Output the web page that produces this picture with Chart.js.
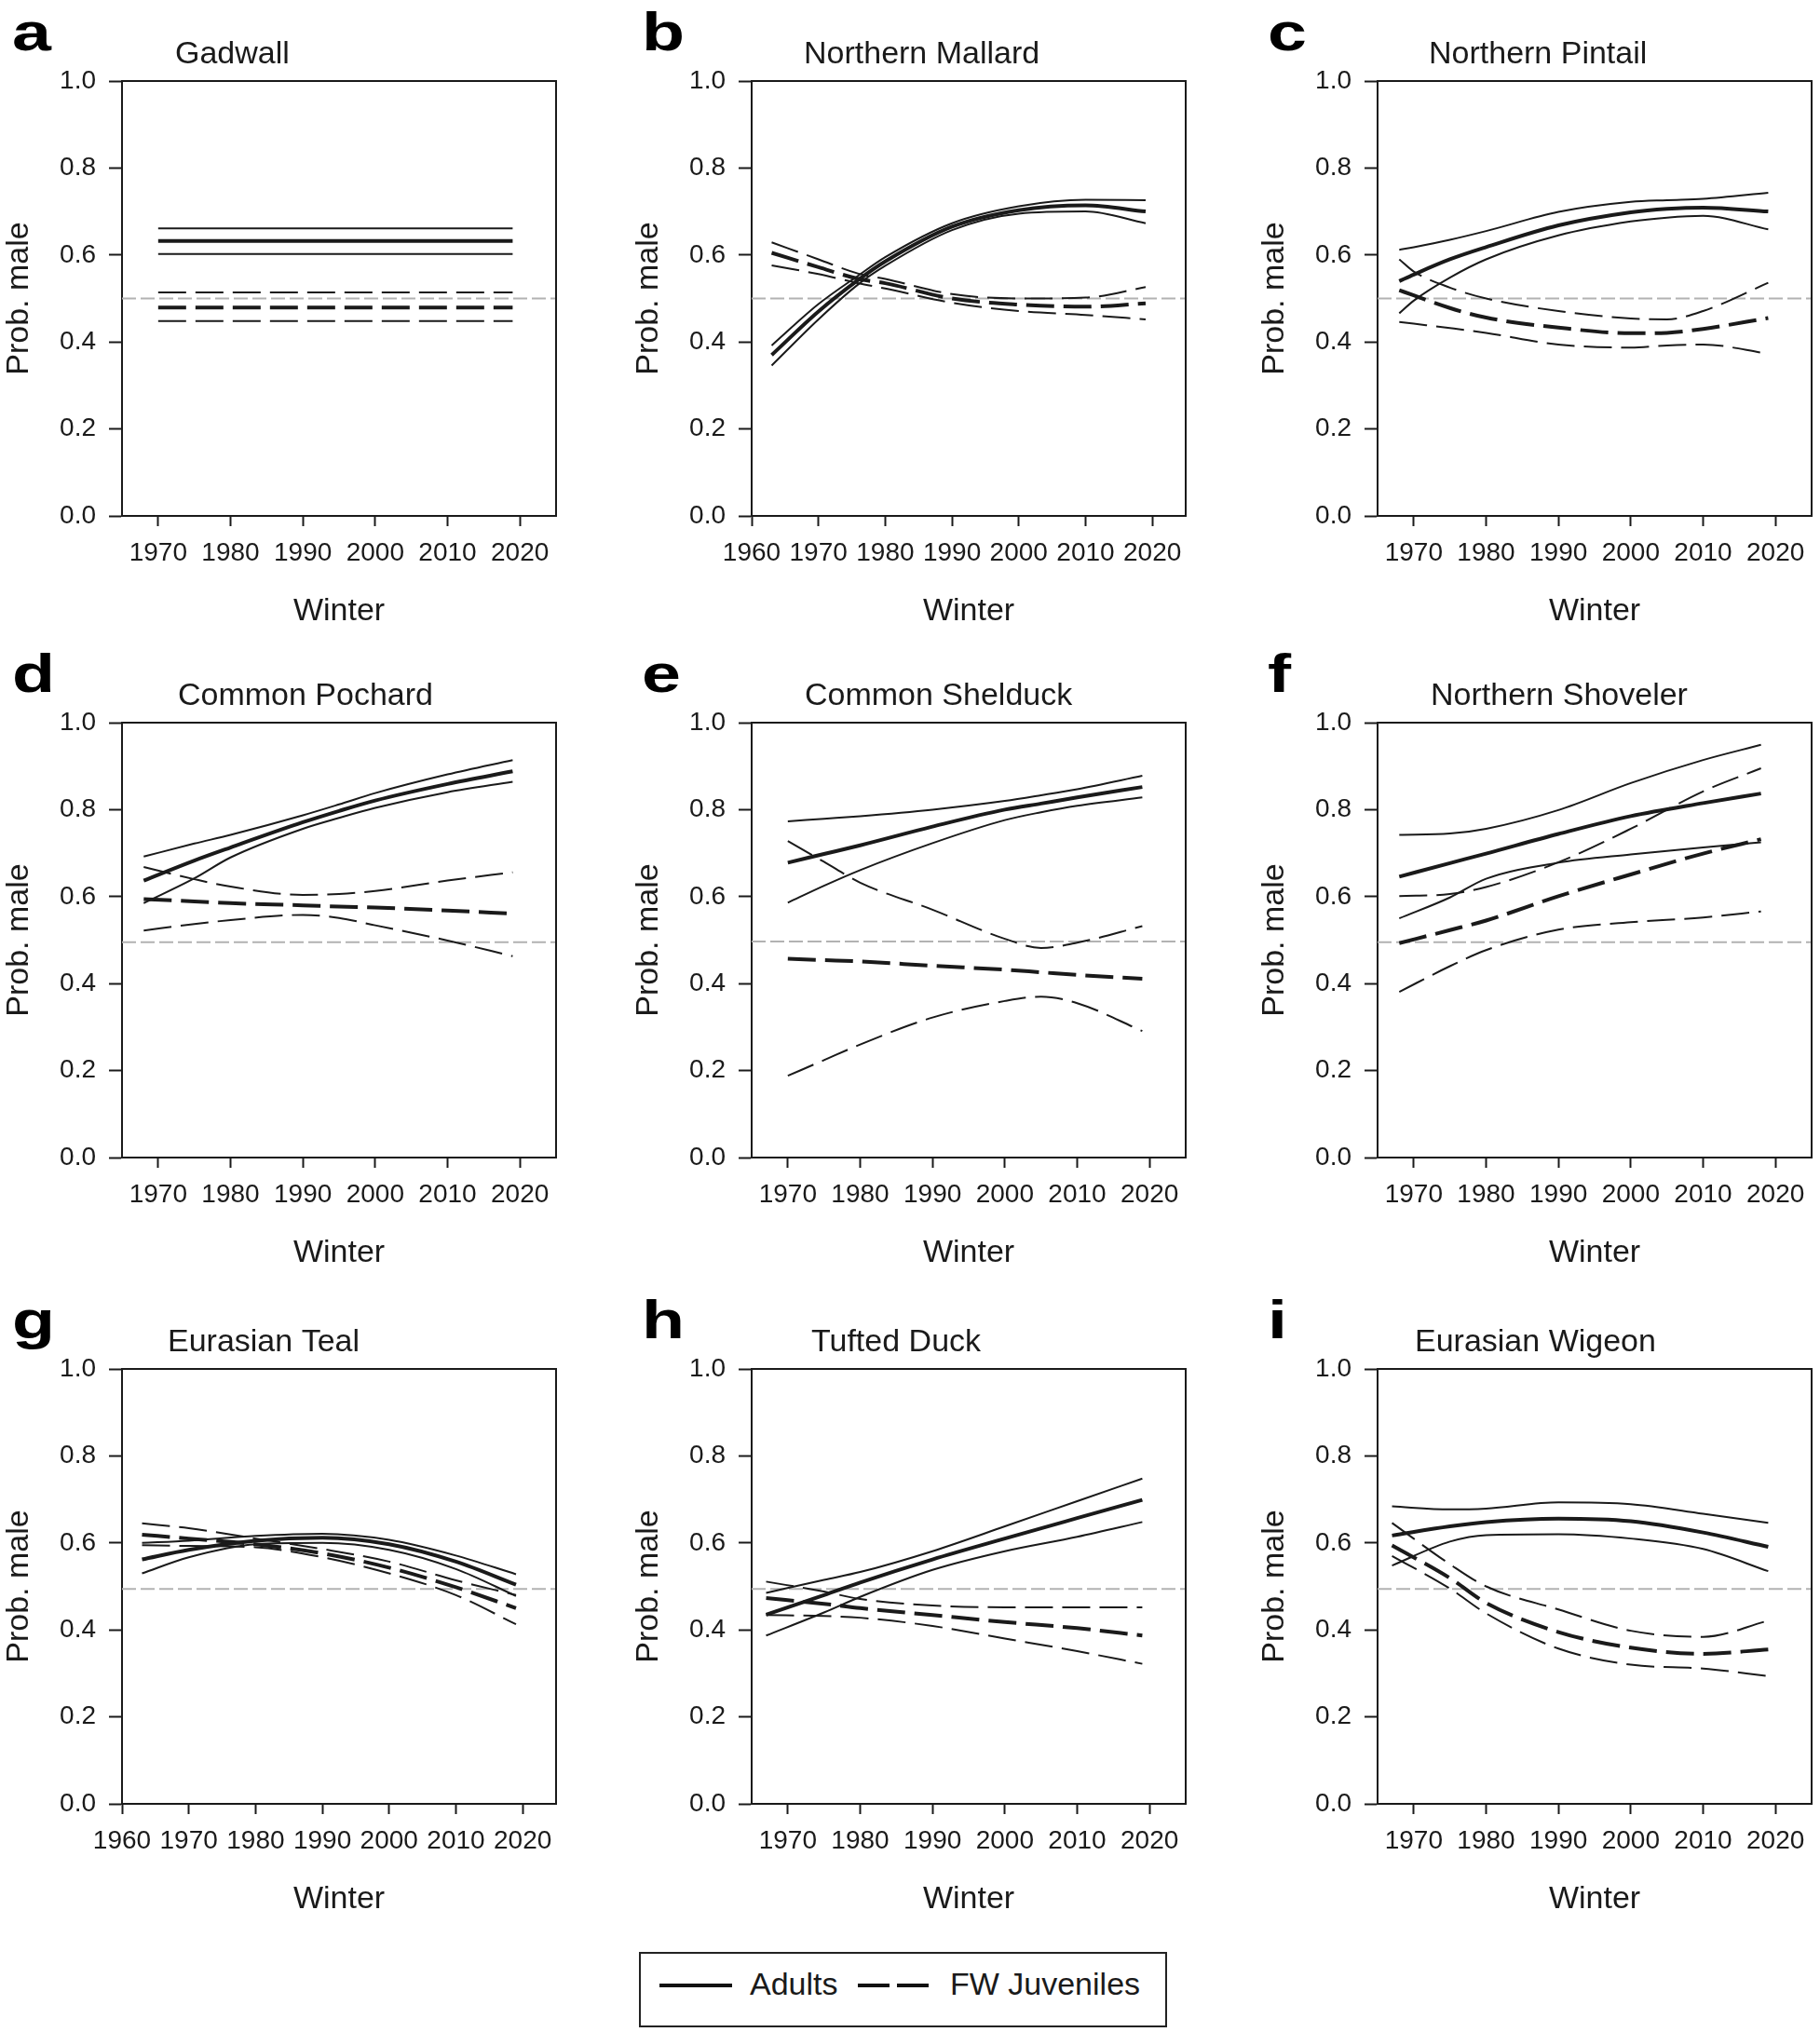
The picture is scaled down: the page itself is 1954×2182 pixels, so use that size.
<!DOCTYPE html>
<html>
<head>
<meta charset="utf-8">
<script src="https://cdn.jsdelivr.net/npm/chart.js@4.4.1/dist/chart.umd.min.js"></script>
<style>
  html, body { margin: 0; padding: 0; background: #fff; }
  body { width: 1954px; height: 2182px; position: relative; overflow: hidden; font-family: "Liberation Sans", Arial, sans-serif; color: #1a1a1a; }
  canvas.panel { position: absolute; }
  #legend { position: absolute; left: 686px; top: 2096px; width: 563px; height: 77px; border: 2px solid #222; }
  #legend .ln { position: absolute; top: 32px; height: 4px; background: #111; }
  #legend .lbl { position: absolute; top: 15px; font-size: 34px; line-height: 34px; }
</style>
</head>
<body>
<div id="legend">
  <span class="ln" style="left:20px;width:78px"></span>
  <span class="lbl" style="left:117px">Adults</span>
  <span class="ln" style="left:233px;width:34px"></span>
  <span class="ln" style="left:275px;width:34px"></span>
  <span class="lbl" style="left:332px">FW Juveniles</span>
</div>
<script>
const FONT = '"Liberation Sans", Arial, sans-serif';
const INK = '#1a1a1a';

// ---------------------------
// axes
// ---------------------------
const yTicks = [0, 0.2, 0.4, 0.6, 0.8, 1.0];
const xTicksFrom1960 = [1960, 1970, 1980, 1990, 2000, 2010, 2020];
const xTicksFrom1970 = [1970, 1980, 1990, 2000, 2010, 2020];
const xMax = 2025;

// ---------------------------
// panels
// ---------------------------
const panelLetters = ['a', 'b', 'c', 'd', 'e', 'f', 'g', 'h', 'i'];
const panelTitles = ['Gadwall', 'Northern Mallard', 'Northern Pintail', 'Common Pochard',
  'Common Shelduck', 'Northern Shoveler', 'Eurasian Teal', 'Tufted Duck', 'Eurasian Wigeon'];
const xMins = [1965, 1960, 1965, 1965, 1965, 1965, 1960, 1965, 1965];
const refLevels = [0.5, 0.5, 0.5, 0.495, 0.497, 0.495, 0.494, 0.494, 0.494];

// ---------------------------
// data (Prob. male by winter)
// ---------------------------
// a Gadwall
const gadwallYears = [1970, 2019];
const gadwallAdult = [0.632, 0.632];
const gadwallAdultHi = [0.661, 0.661];
const gadwallAdultLo = [0.602, 0.602];
const gadwallJuv = [0.479, 0.479];
const gadwallJuvHi = [0.514, 0.514];
const gadwallJuvLo = [0.448, 0.448];

// b Northern Mallard
const mallardYears = [1963, 1970, 1976, 1980, 1990, 2000, 2010, 2019];
const mallardAdult = [0.370, 0.470, 0.543, 0.585, 0.665, 0.703, 0.714, 0.700];
const mallardAdultHi = [0.392, 0.487, 0.553, 0.595, 0.673, 0.712, 0.727, 0.726];
const mallardAdultLo = [0.346, 0.452, 0.533, 0.575, 0.657, 0.695, 0.700, 0.673];
const mallardJuv = [0.605, 0.572, 0.545, 0.535, 0.500, 0.486, 0.481, 0.489];
const mallardJuvHi = [0.629, 0.590, 0.557, 0.545, 0.510, 0.500, 0.502, 0.526];
const mallardJuvLo = [0.576, 0.556, 0.535, 0.523, 0.490, 0.471, 0.462, 0.452];

// c Northern Pintail
const pintailYears = [1968, 1970, 1975, 1980, 1990, 2000, 2005, 2010, 2019];
const pintailAdult = [0.540, 0.555, 0.590, 0.618, 0.668, 0.698, 0.706, 0.709, 0.700];
const pintailAdultHi = [0.612, 0.618, 0.635, 0.655, 0.699, 0.722, 0.726, 0.729, 0.743];
const pintailAdultLo = [0.466, 0.495, 0.548, 0.590, 0.645, 0.677, 0.686, 0.690, 0.659];
const pintailJuv = [0.519, 0.507, 0.478, 0.456, 0.433, 0.420, 0.421, 0.430, 0.455];
const pintailJuvHi = [0.590, 0.562, 0.525, 0.500, 0.471, 0.454, 0.452, 0.471, 0.536];
const pintailJuvLo = [0.446, 0.442, 0.432, 0.421, 0.394, 0.387, 0.392, 0.394, 0.373];

// d Common Pochard
const pochardYears = [1968, 1975, 1980, 1990, 1995, 2000, 2010, 2019];
const pochardAdult = [0.637, 0.683, 0.713, 0.771, 0.797, 0.821, 0.859, 0.888];
const pochardAdultHi = [0.692, 0.722, 0.742, 0.787, 0.812, 0.838, 0.881, 0.914];
const pochardAdultLo = [0.585, 0.642, 0.690, 0.756, 0.781, 0.804, 0.840, 0.864];
const pochardJuv = [0.594, 0.589, 0.585, 0.580, 0.577, 0.575, 0.568, 0.561];
const pochardJuvHi = [0.668, 0.640, 0.623, 0.604, 0.606, 0.613, 0.637, 0.656];
const pochardJuvLo = [0.522, 0.537, 0.546, 0.558, 0.551, 0.534, 0.499, 0.463];

// e Common Shelduck
const shelduckYears = [1970, 1975, 1980, 1990, 2000, 2005, 2010, 2019];
const shelduckAdult = [0.678, 0.698, 0.718, 0.761, 0.800, 0.814, 0.828, 0.852];
const shelduckAdultHi = [0.773, 0.779, 0.785, 0.800, 0.820, 0.833, 0.847, 0.878];
const shelduckAdultLo = [0.586, 0.625, 0.661, 0.723, 0.776, 0.794, 0.809, 0.828];
const shelduckJuv = [0.457, 0.454, 0.451, 0.441, 0.432, 0.426, 0.420, 0.411];
const shelduckJuvHi = [0.728, 0.680, 0.632, 0.570, 0.503, 0.482, 0.494, 0.532];
const shelduckJuvLo = [0.188, 0.224, 0.260, 0.322, 0.360, 0.370, 0.355, 0.291];

// f Northern Shoveler
const shovelerYears = [1968, 1975, 1980, 1990, 2000, 2010, 2018];
const shovelerAdult = [0.646, 0.677, 0.699, 0.744, 0.785, 0.815, 0.837];
const shovelerAdultHi = [0.742, 0.745, 0.756, 0.799, 0.861, 0.914, 0.949];
const shovelerAdultLo = [0.550, 0.598, 0.641, 0.678, 0.697, 0.713, 0.725];
const shovelerJuv = [0.493, 0.523, 0.545, 0.601, 0.651, 0.699, 0.732];
const shovelerJuvHi = [0.601, 0.606, 0.622, 0.679, 0.756, 0.842, 0.895];
const shovelerJuvLo = [0.381, 0.440, 0.477, 0.524, 0.541, 0.552, 0.566];

// g Eurasian Teal
const tealYears = [1963, 1970, 1980, 1990, 2000, 2010, 2019];
const tealAdult = [0.562, 0.584, 0.605, 0.612, 0.597, 0.557, 0.504];
const tealAdultHi = [0.600, 0.605, 0.616, 0.621, 0.607, 0.571, 0.528];
const tealAdultLo = [0.530, 0.567, 0.597, 0.600, 0.584, 0.540, 0.478];
const tealJuv = [0.619, 0.610, 0.597, 0.576, 0.543, 0.498, 0.450];
const tealJuvHi = [0.645, 0.634, 0.610, 0.586, 0.557, 0.514, 0.480];
const tealJuvLo = [0.595, 0.593, 0.590, 0.567, 0.530, 0.480, 0.413];

// h Tufted Duck
const tuftedYears = [1967, 1975, 1980, 1990, 2000, 2010, 2019];
const tuftedAdult = [0.435, 0.480, 0.509, 0.562, 0.610, 0.657, 0.699];
const tuftedAdultHi = [0.485, 0.515, 0.533, 0.581, 0.638, 0.696, 0.748];
const tuftedAdultLo = [0.387, 0.440, 0.476, 0.538, 0.581, 0.614, 0.648];
const tuftedJuv = [0.473, 0.460, 0.450, 0.434, 0.418, 0.404, 0.387];
const tuftedJuvHi = [0.511, 0.488, 0.471, 0.456, 0.452, 0.452, 0.452];
const tuftedJuvLo = [0.434, 0.432, 0.428, 0.409, 0.380, 0.351, 0.322];

// i Eurasian Wigeon
const wigeonYears = [1967, 1975, 1980, 1990, 2000, 2010, 2019];
const wigeonAdult = [0.617, 0.638, 0.648, 0.656, 0.650, 0.624, 0.591];
const wigeonAdultHi = [0.684, 0.677, 0.679, 0.693, 0.689, 0.667, 0.646];
const wigeonAdultLo = [0.548, 0.603, 0.618, 0.620, 0.610, 0.586, 0.535];
const wigeonJuv = [0.594, 0.519, 0.462, 0.395, 0.359, 0.345, 0.355];
const wigeonJuvHi = [0.646, 0.551, 0.500, 0.447, 0.398, 0.384, 0.421];
const wigeonJuvLo = [0.570, 0.495, 0.438, 0.357, 0.320, 0.311, 0.294];

const panelSeries = [
  [gadwallYears, gadwallAdult, gadwallAdultHi, gadwallAdultLo, gadwallJuv, gadwallJuvHi, gadwallJuvLo],
  [mallardYears, mallardAdult, mallardAdultHi, mallardAdultLo, mallardJuv, mallardJuvHi, mallardJuvLo],
  [pintailYears, pintailAdult, pintailAdultHi, pintailAdultLo, pintailJuv, pintailJuvHi, pintailJuvLo],
  [pochardYears, pochardAdult, pochardAdultHi, pochardAdultLo, pochardJuv, pochardJuvHi, pochardJuvLo],
  [shelduckYears, shelduckAdult, shelduckAdultHi, shelduckAdultLo, shelduckJuv, shelduckJuvHi, shelduckJuvLo],
  [shovelerYears, shovelerAdult, shovelerAdultHi, shovelerAdultLo, shovelerJuv, shovelerJuvHi, shovelerJuvLo],
  [tealYears, tealAdult, tealAdultHi, tealAdultLo, tealJuv, tealJuvHi, tealJuvLo],
  [tuftedYears, tuftedAdult, tuftedAdultHi, tuftedAdultLo, tuftedJuv, tuftedJuvHi, tuftedJuvLo],
  [wigeonYears, wigeonAdult, wigeonAdultHi, wigeonAdultLo, wigeonJuv, wigeonJuvHi, wigeonJuvLo]
];

// ---------------------------
// layout (pixels)
// ---------------------------
const colLeft = [0, 676, 1348];
const rowTop = [0, 689, 1383];
const CANVAS_W = 605, CANVAS_H = 686;
const AXIS_Y_W = 131, AXIS_X_H = 132, PLOT_TOP = 87, PLOT_W = 466;
const titleDx = [57, 56, 55, 60, 57, 57, 49, 64, 40];

// letters and species names
const panelText = {
  id: 'panelText',
  afterDraw(chart, args, opts) {
    const ctx = chart.ctx, area = chart.chartArea;
    ctx.save();
    ctx.fillStyle = '#000';
    ctx.textBaseline = 'alphabetic';
    // panel letter is set wide and heavy in the figure
    ctx.save();
    ctx.translate(area.left - 118, area.top - 33);
    ctx.scale(1.3, 1);
    ctx.font = `bold 58px ${FONT}`;
    ctx.fillText(opts.letter, 0, 0);
    ctx.restore();
    ctx.font = `34px ${FONT}`;
    ctx.fillStyle = INK;
    ctx.fillText(opts.title, area.left + opts.dx, area.top - 19);
    ctx.restore();
  }
};

// top and right edge of the box
const frame = {
  id: 'frame',
  afterDraw(chart) {
    const ctx = chart.ctx, a = chart.chartArea;
    ctx.save();
    ctx.strokeStyle = INK;
    ctx.lineWidth = 2;
    ctx.beginPath();
    ctx.moveTo(a.left, a.top);
    ctx.lineTo(a.right, a.top);
    ctx.lineTo(a.right, a.bottom);
    ctx.stroke();
    ctx.restore();
  }
};

function points(years, vals) {
  return years.map((x, k) => ({ x, y: vals[k] }));
}

function lineSet(data, width, dash) {
  return {
    data, borderColor: INK, borderWidth: width, borderDash: dash,
    pointRadius: 0, fill: false, cubicInterpolationMode: 'monotone'
  };
}

function createPanel(i) {
  const canvas = document.createElement('canvas');
  canvas.className = 'panel';
  canvas.width = CANVAS_W;
  canvas.height = CANVAS_H;
  canvas.style.left = colLeft[i % 3] + 'px';
  canvas.style.top = rowTop[Math.floor(i / 3)] + 'px';
  document.body.appendChild(canvas);

  const [years, ad, adHi, adLo, juv, juvHi, juvLo] = panelSeries[i];
  const xMin = xMins[i];
  const xt = xMin === 1960 ? xTicksFrom1960 : xTicksFrom1970;
  const dash = [30, 10];

  const datasets = [
    lineSet(points(years, ad), 4, []),
    lineSet(points(years, adHi), 2, []),
    lineSet(points(years, adLo), 2, []),
    lineSet(points(years, juv), 4, dash),
    lineSet(points(years, juvHi), 2, dash),
    lineSet(points(years, juvLo), 2, dash),
    {
      data: [{ x: xMin, y: refLevels[i] }, { x: xMax, y: refLevels[i] }],
      borderColor: '#b2b2b2', borderWidth: 2, borderDash: [15, 5], pointRadius: 0, fill: false
    }
  ];

  const gridOpts = { drawOnChartArea: false, drawTicks: true, tickWidth: 2, tickColor: INK };

  new Chart(canvas.getContext('2d'), {
    type: 'line',
    data: { datasets },
    options: {
      responsive: false,
      animation: false,
      devicePixelRatio: 1,
      events: [],
      layout: { padding: { left: 0, top: PLOT_TOP, right: CANVAS_W - AXIS_Y_W - PLOT_W, bottom: 0 } },
      plugins: {
        legend: { display: false },
        tooltip: { enabled: false },
        panelText: { letter: panelLetters[i], title: panelTitles[i], dx: titleDx[i] }
      },
      scales: {
        x: {
          type: 'linear', min: xMin, max: xMax,
          afterBuildTicks: s => { s.ticks = xt.map(v => ({ value: v })); },
          afterFit: s => { s.height = AXIS_X_H; },
          ticks: { callback: v => String(v), font: { size: 28, family: FONT }, color: INK, padding: 12, maxRotation: 0, autoSkip: false },
          grid: { ...gridOpts, tickLength: 11 },
          border: { display: true, color: INK, width: 2 },
          title: { display: true, text: 'Winter', color: INK, font: { size: 34, family: FONT, lineHeight: 1 }, padding: { top: 0, bottom: 12 } }
        },
        y: {
          min: 0, max: 1,
          afterBuildTicks: s => { s.ticks = yTicks.map(v => ({ value: v })); },
          afterFit: s => { s.width = AXIS_Y_W; },
          ticks: { callback: v => v.toFixed(1), font: { size: 28, family: FONT }, color: INK, padding: 14 },
          grid: { ...gridOpts, tickLength: 14 },
          border: { display: true, color: INK, width: 2 },
          title: { display: true, text: 'Prob. male', color: INK, font: { size: 34, family: FONT, lineHeight: 1 }, padding: { top: 4, bottom: 0 } }
        }
      }
    },
    plugins: [panelText, frame]
  });
}

Chart.defaults.font.family = FONT;
panelTitles.forEach((t, i) => createPanel(i));
</script>
</body>
</html>
